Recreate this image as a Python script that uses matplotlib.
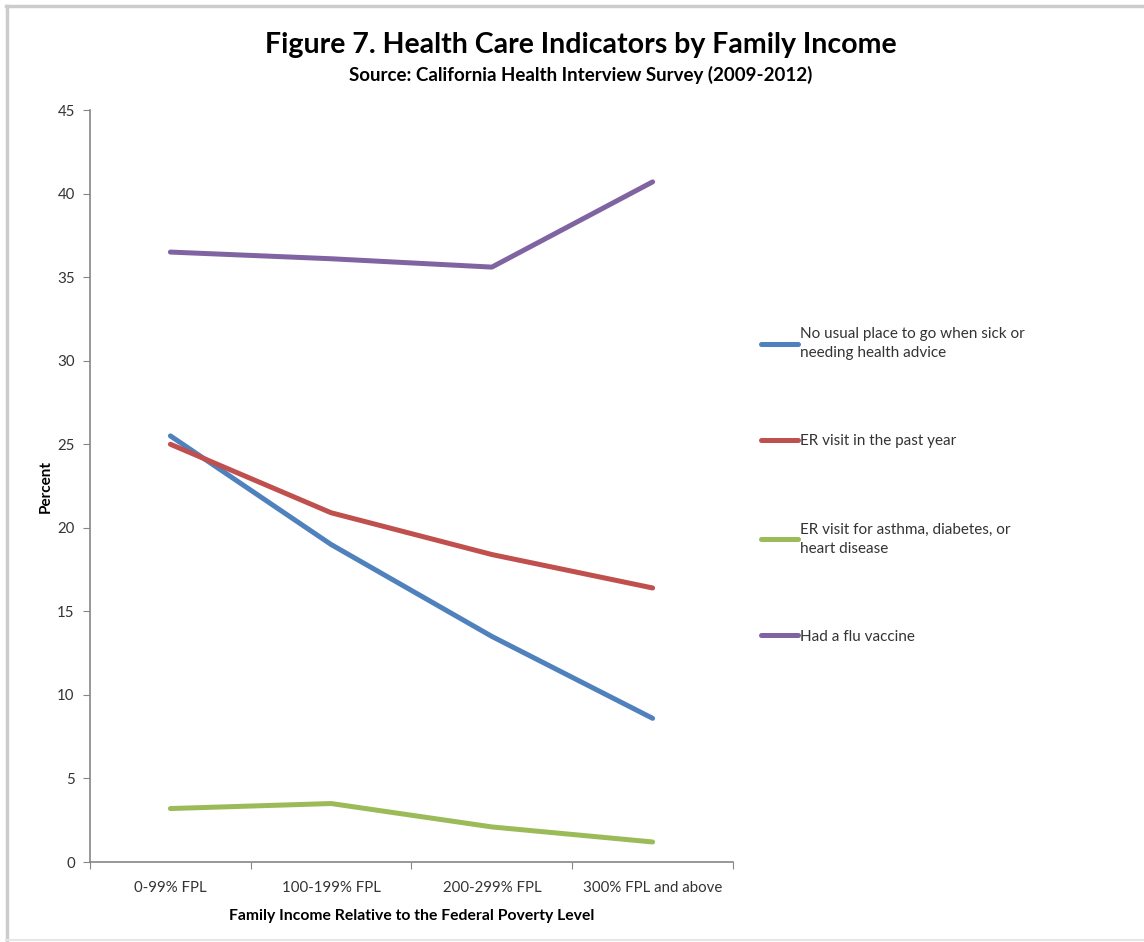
import matplotlib
matplotlib.use('Agg')
import matplotlib.pyplot as plt
from matplotlib.lines import Line2D

plt.rcParams['font.family'] = ['Lato', 'DejaVu Sans']

# data
categories = ['0-99% FPL', '100-199% FPL', '200-299% FPL', '300% FPL and above']
no_usual_place = [25.5, 19.0, 13.5, 8.6]
er_visit = [25.0, 20.9, 18.4, 16.4]
er_chronic = [3.2, 3.5, 2.1, 1.2]
flu_vaccine = [36.5, 36.1, 35.6, 40.7]

series_labels = ['No usual place to go when sick or\nneeding health advice',
                 'ER visit in the past year',
                 'ER visit for asthma, diabetes, or\nheart disease',
                 'Had a flu vaccine']
colors = ['#4F81BD', '#C0504D', '#9BBB59', '#8064A2']
yticks = [0, 5, 10, 15, 20, 25, 30, 35, 40, 45]

fig = plt.figure(figsize=(11.44, 9.42), dpi=100)
ax = fig.add_axes([0.0787, 0.0849, 0.562, 0.7983])

xs = [i + 0.5 for i in range(len(categories))]
for vals, lab, c in zip([no_usual_place, er_visit, er_chronic, flu_vaccine], series_labels, colors):
    ax.plot(xs, vals, color=c, lw=3.6, solid_capstyle='round', solid_joinstyle='round', label=lab)

ax.set_xlim(0, len(categories))
ax.set_ylim(0, 45)
ax.set_yticks(yticks)
ax.set_xticks(range(len(categories) + 1))
ax.set_xticklabels([])
ax.set_xticks(xs, minor=True)
ax.set_xticklabels(categories, minor=True)
ax.tick_params(axis='x', which='minor', length=0, pad=14, labelsize=10.8, labelcolor='#333333')
ax.tick_params(axis='x', which='major', length=5, color='#868686')
ax.tick_params(axis='y', length=5, color='#868686', labelsize=10.8, labelcolor='#333333', pad=6)
for s in ['top', 'right']:
    ax.spines[s].set_visible(False)
for s in ['left', 'bottom']:
    ax.spines[s].set_color('#868686')
    ax.spines[s].set_linewidth(1.2)

ax.set_xlabel('Family Income Relative to the Federal Poverty Level', fontsize=11.3, fontweight='bold', labelpad=10)
ax.set_ylabel('Percent', fontsize=11, fontweight='bold', labelpad=3)

fig.text(0.508, 0.952, 'Figure 7. Health Care Indicators by Family Income', ha='center', va='center',
         fontsize=20.5, fontweight='bold')
fig.text(0.508, 0.920, 'Source: California Health Interview Survey (2009-2012)', ha='center', va='center',
         fontsize=13.5, fontweight='bold')

leg = ax.legend(loc='upper left', bbox_to_anchor=(1.034, 0.719), frameon=False, fontsize=11,
                handlelength=2.4, handletextpad=0.15, labelspacing=4.85, borderaxespad=0)
for t in leg.get_texts():
    t.set_color('#333333')
    t.set_linespacing(1.45)

# grey frame on the screenshot edges
fig.add_artist(Line2D([0.005, 1.0], [0.9935, 0.9935], transform=fig.transFigure, color='#cccccc', lw=2.5))
fig.add_artist(Line2D([0.006, 0.006], [0.0, 0.9935], transform=fig.transFigure, color='#cccccc', lw=2.5))
fig.add_artist(Line2D([0.005, 1.0], [0.002, 0.002], transform=fig.transFigure, color='#e6e6e6', lw=1.5))

fig.savefig('out.png', dpi=100)
